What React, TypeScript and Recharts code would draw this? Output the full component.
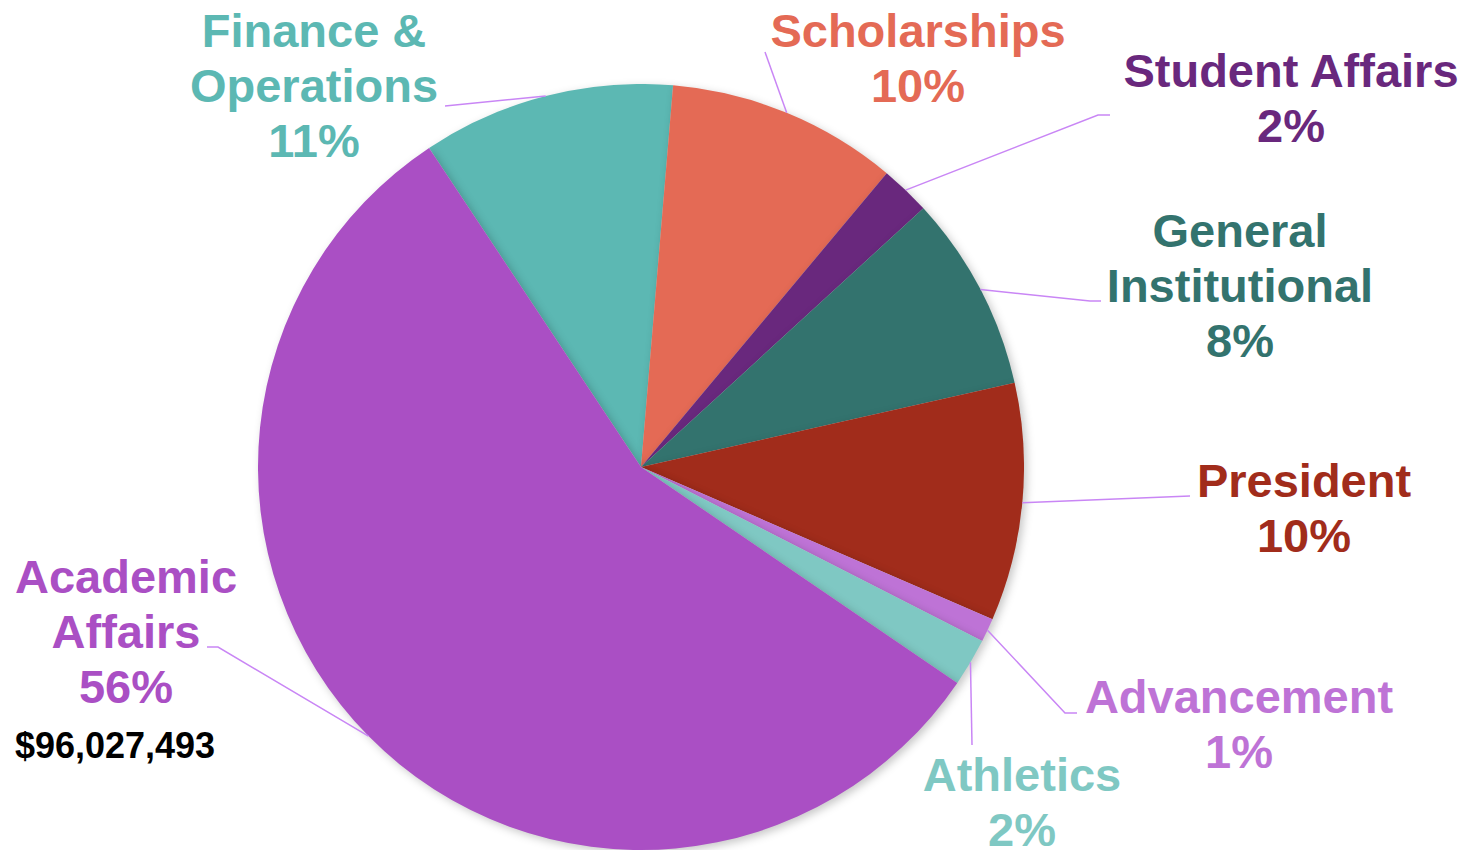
import React from 'react';
import { PieChart, Pie, Cell } from 'recharts';

const categories = [
  'Finance & Operations',
  'Scholarships',
  'Student Affairs',
  'General Institutional',
  'President',
  'Advancement',
  'Athletics',
  'Academic Affairs',
];
const budgetValues = [18251000, 16680000, 3610000, 14160000, 17160000, 1710000, 3470000, 96027493];
const sliceColors = ['#5CB8B3', '#E46A55', '#69287D', '#33736E', '#A12C1B', '#BE73D6', '#7FC8C3', '#AA4FC4'];
const nameLines = [
  ['Finance &', 'Operations'],
  ['Scholarships'],
  ['Student Affairs'],
  ['General', 'Institutional'],
  ['President'],
  ['Advancement'],
  ['Athletics'],
  ['Academic', 'Affairs'],
];
const amountNote = '$96,027,493';

const data = categories.map((name, i) => ({ name, value: budgetValues[i] }));

// label layout (text anchor centre x, first baseline y, leader-line bend points)
const labelLayout: { x: number; y: number; leader: number[][] }[] = [
  { x: 314, y: 47, leader: [[445, 106]] },
  { x: 918, y: 47, leader: [[765, 52]] },
  { x: 1291, y: 87, leader: [[1098, 115], [1110, 115]] },
  { x: 1240, y: 247, leader: [[1090, 301], [1101, 301]] },
  { x: 1304, y: 497, leader: [[1190, 496]] },
  { x: 1239, y: 713, leader: [[1065, 713], [1077, 713]] },
  { x: 1022, y: 791, leader: [[972, 745]] },
  { x: 126, y: 593, leader: [[218, 647], [207, 647]] },
];

const RAD = Math.PI / 180;
const FONT = '"Liberation Sans", Arial, Helvetica, sans-serif';

function renderLabel(props: any) {
  const { cx, cy, midAngle, outerRadius, percent, index } = props;
  const L = labelLayout[index];
  const sx = cx + outerRadius * Math.cos(-midAngle * RAD);
  const sy = cy + outerRadius * Math.sin(-midAngle * RAD);
  const pts = [[sx, sy], ...L.leader];
  const lines = [...nameLines[index], `${Math.round(percent * 100)}%`];
  const color = sliceColors[index];
  return (
    <g key={`lbl-${index}`}>
      <polyline
        points={pts.map((p) => p.join(',')).join(' ')}
        fill="none"
        stroke="#C986F5"
        strokeWidth={1.5}
      />
      <text
        x={L.x}
        y={L.y}
        textAnchor="middle"
        fill={color}
        fontSize={47}
        fontWeight="bold"
        fontFamily={FONT}
      >
        {lines.map((t, k) => (
          <tspan key={k} x={L.x} dy={k === 0 ? 0 : 55}>
            {t}
          </tspan>
        ))}
      </text>
      {index === 7 && (
        <text
          x={115}
          y={758}
          textAnchor="middle"
          fill="#000000"
          fontSize={36}
          fontWeight="bold"
          fontFamily={FONT}
        >
          {amountNote}
        </text>
      )}
    </g>
  );
}

export default function App() {
  return (
    <div style={{ position: 'absolute', left: 0, top: 0, width: 1474, height: 850, background: '#fff' }}>
      <style>{`.recharts-pie-sectors, .recharts-pie-sector { filter: drop-shadow(3px 3px 4px rgba(0,0,0,0.22)); }`}</style>
      <PieChart width={1474} height={850} margin={{ top: 0, right: 0, bottom: 0, left: 0 }}>
        <Pie
          data={data}
          dataKey="value"
          nameKey="name"
          cx={641}
          cy={467}
          outerRadius={383}
          startAngle={123.6}
          endAngle={-236.4}
          stroke="none"
          label={renderLabel}
          labelLine={false}
          isAnimationActive={false}
        >
          {data.map((d, i) => (
            <Cell key={d.name} fill={sliceColors[i]} />
          ))}
        </Pie>
      </PieChart>
    </div>
  );
}
